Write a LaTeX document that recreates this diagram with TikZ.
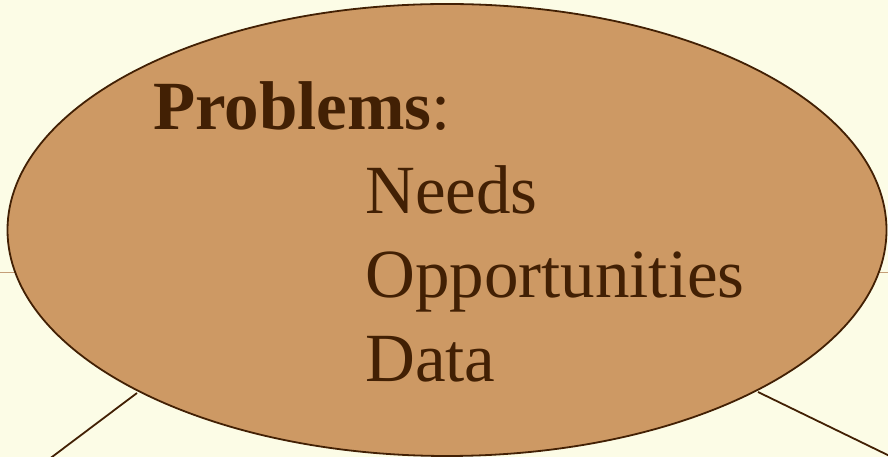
\documentclass[tikz,border=0pt]{standalone}
\usepackage{fontspec}
\setmainfont{Liberation Serif}
\usetikzlibrary{positioning}
\usetikzlibrary{shapes.geometric}
\usetikzlibrary{backgrounds}
\definecolor{paper}{RGB}{252,252,230}
\definecolor{tan}{RGB}{205,153,100}
\definecolor{umber}{RGB}{66,32,4}
\definecolor{rule}{RGB}{196,158,120}
\tikzset{bubble/.style={draw=umber,fill=tan,ellipse,line width=1.8pt,inner sep=0pt,minimum width=879pt,minimum height=452pt},
  item/.style={anchor=base west,inner sep=0pt,text=umber,font=\fontsize{69}{84}\selectfont},
  link/.style={draw=umber,line width=1.8pt}}
\begin{document}
\begin{tikzpicture}[x=1pt,y=1pt]
\useasboundingbox (0,0) rectangle (888,457);
\fill[paper] (0,0) rectangle (888,457);
\clip (0,0) rectangle (888,457);
\coordinate (ruleL) at (0,184);
\coordinate (ruleR) at (888,184);
\draw[rule,line width=1pt] (ruleL) -- (ruleR);
\coordinate (hubL) at (137,64);
\coordinate (hubR) at (758,65);
\coordinate (outL) at (40,-9);
\coordinate (outR) at (900,-4);
\draw[link] (hubL) -- (outL);
\draw[link] (hubR) -- (outR);
    \node [bubble] (prob) at (447,227) {};
    \node [item] (title) at (153,327) {\textbf{Problems}:};
    \node [item] (needs) at (365,243) {Needs};
    \node [item,below=84pt of needs.base west,anchor=base west] (opps) {Opportunities};
    \node [item,below=84pt of opps.base west,anchor=base west] (data) {Data};
\end{tikzpicture}
\end{document}
